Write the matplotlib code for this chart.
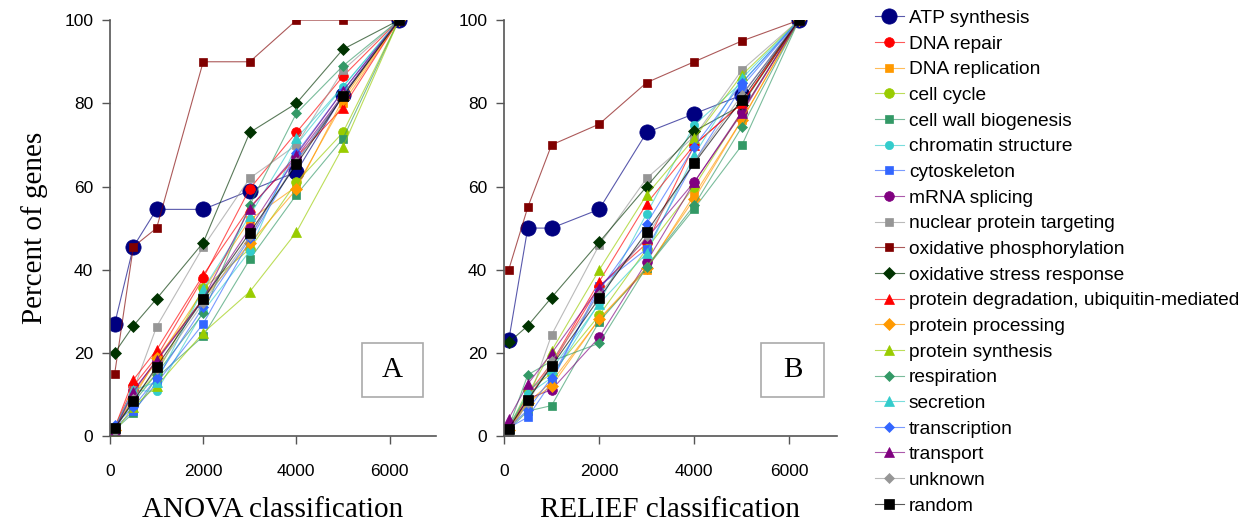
import numpy as np
import matplotlib
matplotlib.use("Agg")
import matplotlib.pyplot as plt
from matplotlib.patches import Rectangle
from matplotlib.colors import to_rgba

# gene counts taken from the top of each ranking
x_genes = [100, 500, 1000, 2000, 3000, 4000, 5000, 6200]

categories = ["ATP synthesis", "DNA repair", "DNA replication", "cell cycle",
              "cell wall biogenesis", "chromatin structure", "cytoskeleton",
              "mRNA splicing", "nuclear protein targeting",
              "oxidative phosphorylation", "oxidative stress response",
              "protein degradation, ubiquitin-mediated", "protein processing",
              "protein synthesis", "respiration", "secretion", "transcription",
              "transport", "unknown", "random"]

# panel A: ANOVA ranking (percent of genes of the category)
anova_atp = [27, 45.5, 54.5, 54.5, 59, 63.5, 82, 100]
anova_dna_repair = [2, 12, 19, 38, 59.5, 73, 86.5, 100]
anova_dna_replication = [1.5, 10, 18, 35, 52, 60, 80, 100]
anova_cell_cycle = [1.5, 9, 15, 35.5, 45, 61, 73, 100]
anova_cell_wall = [1.5, 5.5, 14, 24, 42.5, 58, 71.5, 100]
anova_chromatin = [2, 11, 10.7, 30, 44.5, 70, 84, 100]
anova_cytoskeleton = [2, 6, 12.7, 27, 47, 66, 82, 100]
anova_mrna = [1.5, 11, 18, 33, 50, 67, 82, 100]
anova_nuclear = [1, 11, 26.3, 45.5, 62, 70, 88, 100]
anova_ox_phos = [15, 45.5, 50, 90, 90, 100, 100, 100]
anova_ox_stress = [20, 26.5, 33, 46.5, 73, 80, 93, 100]
anova_prot_deg = [2, 13.5, 20.7, 38.7, 55, 67, 79, 100]
anova_prot_proc = [1.5, 9, 18.7, 33, 46.3, 59.3, 81, 100]
anova_prot_syn = [1, 7, 12, 24.8, 34.7, 49, 69.5, 100]
anova_respiration = [2, 8, 15, 29.5, 55.5, 77.6, 89, 100]
anova_secretion = [2, 11, 13, 35.3, 53, 71.6, 84, 100]
anova_transcription = [2.6, 7, 13.9, 31, 47.5, 68, 83, 100]
anova_transport = [1.5, 10.6, 18.3, 33, 54.7, 67.6, 83, 100]
anova_unknown = [1.3, 9, 16, 32, 48, 66, 82, 100]
anova_random = [1.9, 8.3, 16.7, 32.9, 48.9, 65.3, 81.7, 100]

# panel B: RELIEF ranking
relief_atp = [23, 50, 50, 54.5, 73, 77.5, 82, 100]
relief_dna_repair = [2, 9, 17, 36, 46.3, 70, 80, 100]
relief_dna_replication = [2, 8, 13, 28, 40, 58, 76, 100]
relief_cell_cycle = [2, 11, 15, 29, 45, 60, 78, 100]
relief_cell_wall = [1.5, 6, 7.3, 27.5, 40.5, 54.7, 69.9, 100]
relief_chromatin = [2, 10, 14, 32, 53.5, 74.8, 85, 100]
relief_cytoskeleton = [2, 4.5, 13, 36, 45, 66, 84, 100]
relief_mrna = [2, 9, 11.1, 23.7, 41.9, 61, 78, 100]
relief_nuclear = [1, 8, 24.3, 45.9, 62, 72, 88, 100]
relief_ox_phos = [40, 55, 70, 75, 85, 90, 95, 100]
relief_ox_stress = [22.5, 26.5, 33.3, 46.6, 60, 73.3, 79.6, 100]
relief_prot_deg = [2, 10, 17.5, 37.1, 55.9, 70, 80, 100]
relief_prot_proc = [1.5, 8, 12, 28.1, 40.5, 57, 76, 100]
relief_prot_syn = [2, 10, 20.5, 39.9, 58, 71.6, 86.8, 100]
relief_respiration = [2, 14.7, 18, 22.3, 40.7, 55.5, 74.3, 100]
relief_secretion = [2, 10.5, 16, 31.8, 44, 67.6, 86, 100]
relief_transcription = [2, 6.3, 14, 35, 51.1, 69.6, 84.9, 100]
relief_transport = [4.2, 12.5, 19.9, 35.7, 47.5, 61.1, 77.6, 100]
relief_unknown = [1, 8, 18, 34, 48, 66, 82, 100]
relief_random = [1.8, 8.7, 16.8, 33.1, 49.1, 65.6, 80.9, 100]

anova = [anova_atp, anova_dna_repair, anova_dna_replication, anova_cell_cycle,
         anova_cell_wall, anova_chromatin, anova_cytoskeleton, anova_mrna,
         anova_nuclear, anova_ox_phos, anova_ox_stress, anova_prot_deg,
         anova_prot_proc, anova_prot_syn, anova_respiration, anova_secretion,
         anova_transcription, anova_transport, anova_unknown, anova_random]
relief = [relief_atp, relief_dna_repair, relief_dna_replication, relief_cell_cycle,
          relief_cell_wall, relief_chromatin, relief_cytoskeleton, relief_mrna,
          relief_nuclear, relief_ox_phos, relief_ox_stress, relief_prot_deg,
          relief_prot_proc, relief_prot_syn, relief_respiration, relief_secretion,
          relief_transcription, relief_transport, relief_unknown, relief_random]

# (color, marker, markersize) per category, excel-ish palette
styles = [("#000080", "o", 11), ("#FF0000", "o", 7), ("#FF9900", "s", 6),
          ("#99CC00", "o", 7), ("#339966", "s", 6), ("#33CCCC", "o", 6),
          ("#3366FF", "s", 6), ("#800080", "o", 7), ("#969696", "s", 6),
          ("#800000", "s", 6), ("#003300", "D", 6), ("#FF0000", "^", 7),
          ("#FF9900", "D", 6), ("#99CC00", "^", 7), ("#339966", "D", 5),
          ("#33CCCC", "^", 7), ("#3366FF", "D", 5), ("#800080", "^", 7),
          ("#969696", "D", 5), ("#000000", "s", 7)]

plt.rcParams['font.family'] = ['Liberation Sans', 'DejaVu Sans']

fig = plt.figure(figsize=(12.59, 5.27), dpi=100)
axA = fig.add_axes([0.0874, 0.1727, 0.259, 0.789])
axB = fig.add_axes([0.4003, 0.1727, 0.2645, 0.789])


def draw_panel(ax, series, letter, xlabel):
    for vals, (col, mk, ms) in zip(series, styles):
        # thin light line, solid marker
        ax.plot(x_genes, vals, color=to_rgba(col, 0.65), lw=0.8,
                marker=mk, markersize=ms, markerfacecolor=col,
                markeredgecolor=col, markeredgewidth=0.5)
    ax.set_xlim(0, 7000)
    ax.set_ylim(0, 100)
    ax.set_xticks([0, 2000, 4000, 6000])
    ax.set_yticks([0, 20, 40, 60, 80, 100])
    for s in ["top", "right"]:
        ax.spines[s].set_visible(False)
    for s in ["left", "bottom"]:
        ax.spines[s].set_color("#555555")
        ax.spines[s].set_linewidth(1.2)
    ax.tick_params(direction="out", length=6, width=1, color="#555555",
                   labelsize=12.5, pad=6)
    ax.tick_params(axis="x", pad=14)
    ax.set_xlabel(xlabel, family="Liberation Serif", fontsize=21, labelpad=13)
    ax.add_patch(Rectangle((0.773, 0.094), 0.187, 0.13, transform=ax.transAxes,
                           facecolor="white", edgecolor="#aaaaaa", lw=1.2, zorder=5))
    ax.text(0.773 + 0.187 / 2, 0.094 + 0.065, letter, transform=ax.transAxes,
            ha="center", va="center", family="Liberation Serif", fontsize=21, zorder=6)
    ax.patch.set_alpha(0)


draw_panel(axA, anova, "A", "ANOVA classification")
draw_panel(axB, relief, "B", "RELIEF classification")
axA.set_ylabel("Percent of genes", family="Liberation Serif", fontsize=21, labelpad=12)

handles = axA.get_lines()
fig.legend(handles, categories, loc="upper left", bbox_to_anchor=(0.687, 1.0),
           frameon=False, fontsize=13.8, handlelength=1.55, handletextpad=0.25,
           labelspacing=0.43, borderaxespad=0.1)

fig.savefig("out.png", dpi=100)
